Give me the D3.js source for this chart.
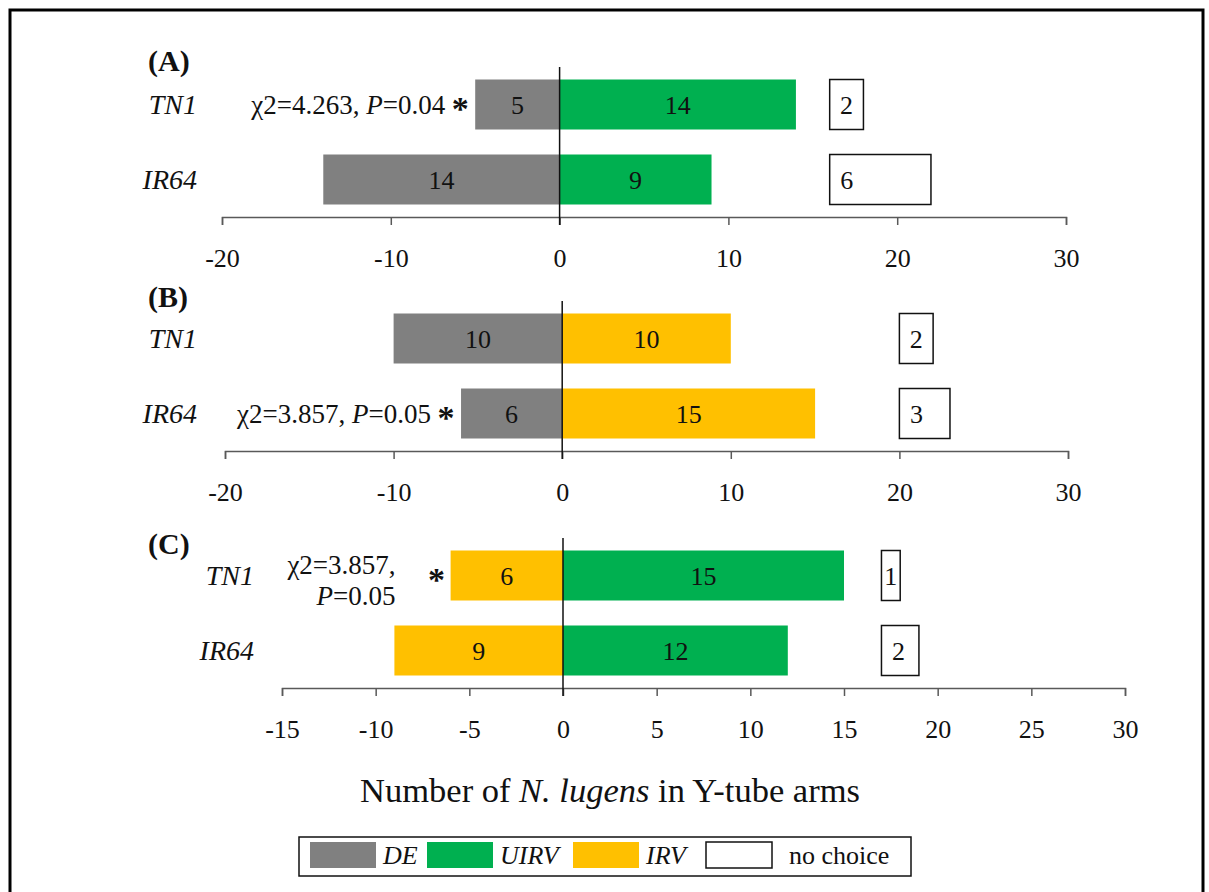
<!DOCTYPE html>
<html>
<head>
<meta charset="utf-8">
<script src="https://cdn.jsdelivr.net/npm/d3@7"></script>
<style>
  body { margin: 0; background: #fff; }
  text { font-family: "Liberation Serif", "Times New Roman", serif; fill: #111; }
</style>
</head>
<body>
<div id="chart"></div>
<script>

// values
var panelNames = ["(A)", "(B)", "(C)"];
var varieties = ["TN1", "IR64"];
var leftSeries = ["DE", "DE", "IRV"];
var rightSeries = ["UIRV", "IRV", "UIRV"];
var leftValues = [[5, 14], [10, 6], [6, 9]];
var rightValues = [[14, 9], [10, 15], [15, 12]];
var noChoice = [[2, 6], [2, 3], [1, 2]];
var noChoiceFrom = [16, 20, 17];
var xDomains = [[-20, 30], [-20, 30], [-15, 30]];
var xTicks = [
  [-20, -10, 0, 10, 20, 30],
  [-20, -10, 0, 10, 20, 30],
  [-15, -10, -5, 0, 5, 10, 15, 20, 25, 30]
];
// chi-square notes: which row, and the text pieces ([text, italic]) per line
var statRows = ["TN1", "IR64", "TN1"];
var statLines = [
  [[["χ2=4.263, ", 0], ["P", 1], ["=0.04", 0]]],
  [[["χ2=3.857, ", 0], ["P", 1], ["=0.05", 0]]],
  [[["χ2=3.857,", 0]], [["P", 1], ["=0.05", 0]]]
];
var legendNames = ["DE", "UIRV", "IRV", "no choice"];

var color = d3.scaleOrdinal()
  .domain(["DE", "UIRV", "IRV", "no choice"])
  .range(["#808080", "#00B050", "#FFC000", "#ffffff"]);

// layout
var W = 1209, H = 892;
var axisY = [217, 451, 688];
var xRanges = [[222, 1066], [225, 1068], [282, 1125]];
var rowLabelX = [197, 197, 254];
var panelLabelY = [60, 296, 543];
var fs = 26;

var svg = d3.select("#chart")
  .append("svg")
    .attr("width", W)
    .attr("height", H);

// outer frame
svg.append("rect")
  .attr("x", 10).attr("y", 10)
  .attr("width", 1193).attr("height", 900)
  .attr("fill", "none")
  .attr("stroke", "#000")
  .attr("stroke-width", 3);

panelNames.forEach(function(name, p) {
  var g = svg.append("g");

  var x = d3.scaleLinear()
    .domain(xDomains[p])
    .range(xRanges[p]);

  var y = d3.scaleBand()
    .domain(varieties)
    .range([axisY[p] - 150, axisY[p]])
    .paddingInner(1 / 3)
    .paddingOuter(1 / 6);

  var rows = varieties.map(function(v, i) {
    return { v: v, left: leftValues[p][i], right: rightValues[p][i],
             none: noChoice[p][i], from: noChoiceFrom[p] };
  });

  // left bars
  g.selectAll(".lbar")
    .data(rows)
    .enter().append("rect")
      .attr("x", function(d) { return x(-d.left); })
      .attr("y", function(d) { return y(d.v); })
      .attr("width", function(d) { return x(0) - x(-d.left); })
      .attr("height", y.bandwidth())
      .attr("fill", color(leftSeries[p]));

  // right bars
  g.selectAll(".rbar")
    .data(rows)
    .enter().append("rect")
      .attr("x", x(0))
      .attr("y", function(d) { return y(d.v); })
      .attr("width", function(d) { return x(d.right) - x(0); })
      .attr("height", y.bandwidth())
      .attr("fill", color(rightSeries[p]));

  // no choice boxes
  g.selectAll(".nbar")
    .data(rows)
    .enter().append("rect")
      .attr("x", function(d) { return x(d.from); })
      .attr("y", function(d) { return y(d.v); })
      .attr("width", function(d) { return x(d.from + d.none) - x(d.from); })
      .attr("height", y.bandwidth())
      .attr("fill", "#fff")
      .attr("stroke", "#111")
      .attr("stroke-width", 1.5);

  // bar value labels
  g.selectAll(".llab")
    .data(rows)
    .enter().append("text")
      .attr("x", function(d) { return (x(-d.left) + x(0)) / 2; })
      .attr("y", function(d) { return y(d.v) + y.bandwidth() / 2; })
      .attr("dy", "0.35em")
      .attr("text-anchor", "middle")
      .attr("font-size", fs)
      .text(function(d) { return d.left; });

  g.selectAll(".rlab")
    .data(rows)
    .enter().append("text")
      .attr("x", function(d) { return (x(0) + x(d.right)) / 2; })
      .attr("y", function(d) { return y(d.v) + y.bandwidth() / 2; })
      .attr("dy", "0.35em")
      .attr("text-anchor", "middle")
      .attr("font-size", fs)
      .text(function(d) { return d.right; });

  g.selectAll(".nlab")
    .data(rows)
    .enter().append("text")
      .attr("x", function(d) {
        var w = x(d.from + d.none) - x(d.from);
        return x(d.from) + Math.min(w / 2, 17);
      })
      .attr("y", function(d) { return y(d.v) + y.bandwidth() / 2; })
      .attr("dy", "0.35em")
      .attr("text-anchor", "middle")
      .attr("font-size", fs)
      .text(function(d) { return d.none; });

  // x axis (plain hyphen for negatives, like the original)
  var ax = g.append("g")
    .attr("transform", "translate(0," + axisY[p] + ")")
    .call(d3.axisBottom(x)
      .tickValues(xTicks[p])
      .tickFormat(function(d) { return String(d); })
      .tickSize(8)
      .tickSizeOuter(8));
  ax.select(".domain").attr("stroke", "#595959").attr("stroke-width", 1.5);
  ax.selectAll(".tick line").attr("stroke", "#595959").attr("stroke-width", 1.5);
  ax.selectAll(".tick text")
    .attr("y", 41)
    .attr("dy", "0.35em")
    .attr("font-size", fs)
    .attr("fill", "#111");

  // zero line
  g.append("line")
    .attr("x1", x(0)).attr("x2", x(0))
    .attr("y1", axisY[p] - 150).attr("y2", axisY[p] + 8)
    .attr("stroke", "#111")
    .attr("stroke-width", 1.5);

  // panel letter
  g.append("text")
    .attr("x", 148)
    .attr("y", panelLabelY[p])
    .attr("dy", "0.35em")
    .attr("font-size", 30)
    .attr("font-weight", "bold")
    .text(name);

  // variety labels
  g.selectAll(".vlab")
    .data(varieties)
    .enter().append("text")
      .attr("x", rowLabelX[p])
      .attr("y", function(d) { return y(d) + y.bandwidth() / 2; })
      .attr("dy", "0.35em")
      .attr("text-anchor", "end")
      .attr("font-size", 28)
      .attr("font-style", "italic")
      .text(function(d) { return d; });

  // chi-square note with asterisk
  var ri = varieties.indexOf(statRows[p]);
  var barLeft = x(-leftValues[p][ri]);
  var cy = y(statRows[p]) + y.bandwidth() / 2;
  var lines = statLines[p];
  var oneLine = lines.length === 1;
  lines.forEach(function(line, li) {
    var t = g.append("text")
      .attr("x", oneLine ? barLeft - 30 : barLeft - 55)
      .attr("y", oneLine ? cy : cy - 11 + li * 31)
      .attr("dy", "0.35em")
      .attr("text-anchor", "end")
      .attr("font-size", 27);
    line.forEach(function(piece) {
      t.append("tspan")
        .attr("font-style", piece[1] ? "italic" : "normal")
        .text(piece[0]);
    });
  });
  g.append("text")
    .attr("x", barLeft - (oneLine ? 15 : 14))
    .attr("y", cy)
    .attr("dy", "0.46em")
    .attr("text-anchor", "middle")
    .attr("font-size", 34)
    .attr("font-weight", "bold")
    .text("*");
});

// axis title
var title = svg.append("text")
  .attr("x", 610)
  .attr("y", 802)
  .attr("text-anchor", "middle")
  .attr("font-size", 34.5);
title.append("tspan").text("Number of ");
title.append("tspan").attr("font-style", "italic").text("N. lugens");
title.append("tspan").text(" in Y-tube arms");

// legend
var legX = [310, 427, 573, 706];
var leg = svg.append("g");
leg.append("rect")
  .attr("x", 299).attr("y", 837)
  .attr("width", 612).attr("height", 39)
  .attr("fill", "#fff")
  .attr("stroke", "#111")
  .attr("stroke-width", 1.5);

var item = leg.selectAll(".item")
  .data(legendNames)
  .enter().append("g")
    .attr("transform", function(d, i) { return "translate(" + legX[i] + ",842)"; });

item.append("rect")
  .attr("width", 66)
  .attr("height", 26)
  .attr("fill", function(d) { return color(d); })
  .attr("stroke", function(d) { return d === "no choice" ? "#111" : "none"; })
  .attr("stroke-width", 1.5);

item.append("text")
  .attr("x", function(d) { return d === "no choice" ? 83 : 73; })
  .attr("y", 13)
  .attr("dy", "0.35em")
  .attr("font-size", 26)
  .attr("font-style", function(d) { return d === "no choice" ? "normal" : "italic"; })
  .text(function(d) { return d; });

</script>
</body>
</html>
